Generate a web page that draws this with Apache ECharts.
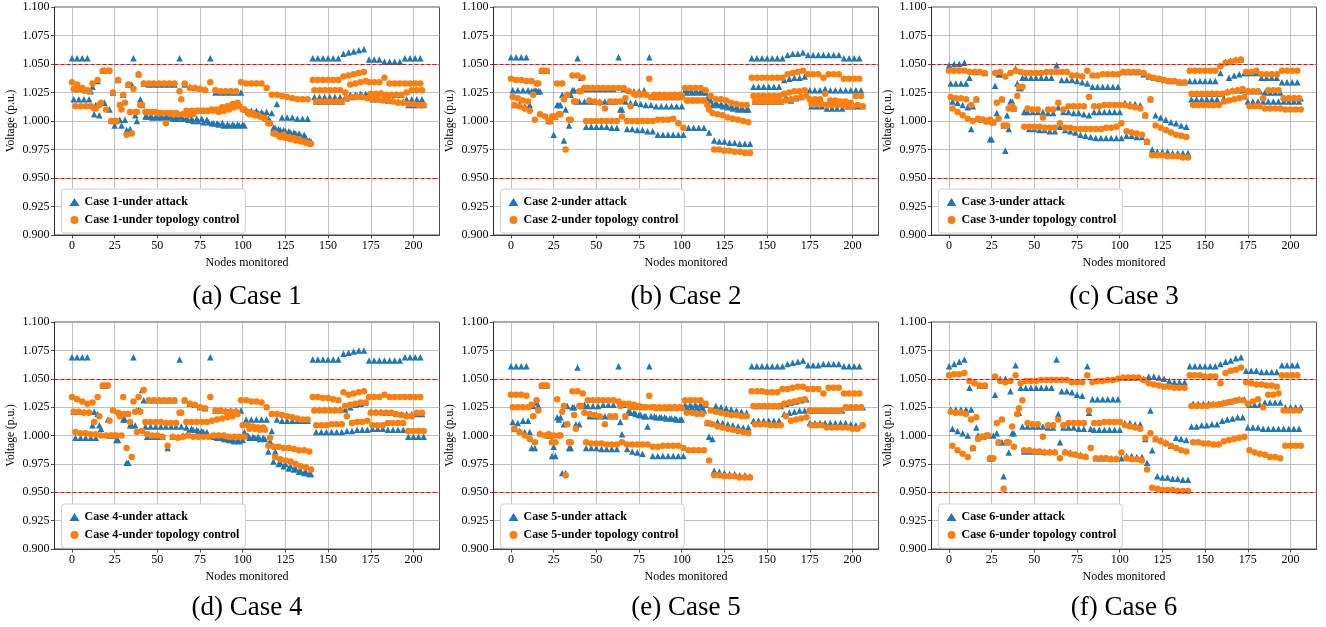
<!DOCTYPE html>
<html><head><meta charset="utf-8">
<script src="https://cdn.jsdelivr.net/npm/echarts@6/dist/echarts.min.js"></script>
<style>html,body{margin:0;padding:0;background:#fff}#c{width:1326px;height:627px}</style>
</head><body><div id="c"></div>
<script>
// Voltages in units of 0.001 p.u. Each band holds one phase group: x = 3k + offset (H:0, M:1, L:2)
const c1AttackH=[1055,1055,1055,1055,1030,1035,1044,1044,1025,1036,1023,1032,1055,1041,1033,1032,1032,1032,1032,1032,1032,1055,1032,1030,1029,1029,1028,1055,1025,1025,1025,1025,1025,1025,1010,1009,1009,1008,1008,1007,1015,1003,1003,1003,1002,1002,1002,1055,1055,1055,1055,1055,1055,1059,1060,1061,1062,1063,1054,1054,1054,1052,1052,1052,1052,1055,1055,1055,1055];
const c1AttackM=[1019,1019,1019,1019,1006,1005,1016,1010,996,1001,1001,993,1005,1019,1004,1004,1004,1004,1004,1004,1003,1004,1003,1002,1002,1002,1001,998,998,998,997,997,997,997,1008,1007,1007,1006,1002,994,993,992,991,990,989,988,983,1021,1021,1021,1021,1021,1021,1021,1023,1023,1024,1024,1024,1024,1025,1023,1023,1023,1023,1019,1019,1019,1019];
const c1AttackL=[1028,1028,1027,1026,1014,1016,1044,1000,1000,996,992,1032,1000,1014,1004,1003,1003,1003,1003,1002,1002,1002,1001,1000,1000,999,999,998,997,996,996,996,996,996,1007,1007,1006,1005,1000,994,992,991,990,989,987,985,982,1017,1017,1017,1017,1017,1017,1020,1021,1022,1022,1022,1019,1019,1019,1018,1018,1017,1017,1014,1014,1014,1014];
const c1ControlH=[1034,1032,1029,1027,1033,1036,1044,1044,1025,1036,1023,1032,1028,1041,1033,1033,1033,1033,1033,1033,1033,1026,1033,1029,1029,1028,1027,1034,1027,1026,1026,1026,1026,1034,1033,1033,1033,1033,1029,1023,1023,1022,1021,1020,1019,1019,1019,1036,1036,1036,1036,1036,1036,1039,1040,1041,1042,1043,1034,1034,1034,1038,1033,1033,1033,1033,1033,1033,1033];
const c1ControlM=[1028,1028,1027,1026,1011,1014,1044,1044,1000,1014,1016,1008,1008,1014,1008,1008,1008,1007,998,1007,1007,1019,1009,1009,1009,1009,1009,1010,1010,1012,1013,1015,1016,1010,1008,1007,1005,1003,998,989,987,988,986,985,984,982,980,1027,1027,1027,1027,1027,1027,1025,1032,1033,1034,1035,1024,1024,1024,1023,1023,1023,1023,1025,1027,1027,1027];
const c1ControlL=[1013,1013,1013,1013,1011,1016,1010,1000,1000,1010,988,989,1008,1014,1008,1008,1007,1007,1007,1006,1006,1006,1005,1006,1009,1009,1009,1009,1008,1009,1010,1012,1013,1010,1006,1005,1004,1002,998,989,986,985,984,983,982,981,980,1017,1017,1017,1017,1017,1017,1020,1021,1021,1021,1020,1019,1019,1018,1018,1017,1016,1016,1015,1015,1014,1014];

const c2AttackH=[1056,1056,1056,1056,1026,1026,1044,1044,1004,1014,1023,1023,1027,1055,1028,1028,1028,1028,1028,1028,1028,1056,1028,1027,1026,1026,1027,1056,1021,1021,1021,1021,1021,1021,1027,1027,1026,1026,1025,1018,1016,1015,1014,1013,1012,1011,1010,1055,1055,1055,1055,1055,1055,1055,1058,1059,1059,1060,1058,1058,1058,1058,1058,1058,1058,1055,1055,1055,1055];
const c2AttackM=[1027,1027,1027,1027,1026,1026,1044,1000,988,1014,983,996,1027,1017,1017,1017,1017,1017,1017,1017,1017,1010,1017,1016,1016,1015,1014,1014,1013,1013,1013,1013,1013,1013,1025,1025,1025,1025,1020,1014,1014,1013,1012,1011,1010,1010,1010,1030,1030,1030,1030,1030,1030,1036,1037,1038,1038,1039,1027,1027,1027,1028,1027,1027,1027,1027,1027,1027,1027];
const c2AttackL=[1014,1015,1013,1014,1027,1026,1044,1000,1004,1014,1010,1023,1017,1038,995,995,995,995,995,994,994,1010,993,993,992,992,991,991,988,988,988,988,988,988,994,994,994,994,990,983,982,982,981,981,980,980,980,1017,1017,1017,1017,1017,1017,1021,1018,1020,1021,1023,1013,1013,1013,1011,1011,1011,1011,1013,1013,1013,1013];
const c2ControlH=[1037,1036,1036,1035,1035,1033,1044,1044,1004,1033,1033,1023,1040,1040,1038,1029,1029,1029,1029,1029,1029,1029,1029,1026,1024,1024,1024,1037,1023,1023,1023,1023,1023,1023,1029,1029,1029,1029,1027,1022,1019,1019,1018,1016,1015,1014,1014,1038,1038,1038,1038,1038,1038,1038,1041,1042,1043,1044,1041,1041,1041,1038,1041,1041,1041,1037,1037,1037,1037];
const c2ControlM=[1021,1020,1018,1017,1023,1033,1044,1000,1004,1006,1019,1001,1017,1026,1029,1018,1017,1016,1011,1017,1017,1017,1020,1013,1023,1023,1023,1021,1021,1021,1021,1021,1021,1021,1018,1018,1018,1018,1014,1007,1006,1005,1003,1002,1001,1000,999,1022,1022,1022,1022,1022,1022,1024,1025,1026,1026,1027,1019,1019,1019,1024,1018,1018,1017,1017,1016,1022,1022];
const c2ControlL=[1014,1013,1011,1009,1001,1006,1004,1000,1004,1006,975,1001,1017,1026,1000,1000,1000,1000,1000,1000,1000,1004,1000,1000,1000,1000,1000,1000,1001,1001,1001,1002,998,994,1018,1018,1018,1018,1010,975,975,974,974,973,973,972,972,1017,1017,1017,1017,1017,1017,1018,1019,1020,1021,1022,1015,1015,1015,1014,1014,1014,1014,1013,1013,1014,1013];

const c3AttackH=[1049,1050,1050,1051,1038,1043,1043,1042,984,1031,1041,974,1017,1046,1029,1038,1038,1038,1038,1038,1038,1049,1036,1036,1036,1035,1034,1033,1030,1030,1030,1030,1030,1030,1043,1043,1043,1043,1041,1039,1038,1037,1036,1035,1035,1034,1034,1035,1035,1035,1035,1035,1035,1042,1052,1053,1054,1054,1042,1042,1042,1038,1038,1038,1038,1034,1034,1034,1034];
const c3AttackM=[1033,1033,1033,1033,993,1019,1001,1000,984,1007,1019,1005,1017,1033,1038,1008,1008,1008,1008,1007,1007,1012,1008,1008,1007,1007,1006,1005,1008,1008,1008,1008,1008,1008,1016,1015,1015,1014,1005,1019,1005,1003,1001,999,998,996,995,1019,1019,1019,1019,1019,1019,1024,1026,1027,1027,1027,1017,1017,1017,1017,1017,1017,1017,1017,1017,1017,1017];
const c3AttackL=[1017,1016,1014,1012,1013,1002,1001,1000,999,1041,996,993,1011,1029,1008,993,993,992,992,991,991,995,992,991,990,988,987,986,985,985,985,985,985,985,987,987,986,986,982,975,973,973,973,972,972,972,972,1024,1024,1024,1024,1024,1024,1020,1038,1040,1041,1042,1026,1026,1026,1025,1025,1025,1025,1020,1020,1020,1020];
const c3ControlH=[1044,1044,1044,1044,1043,1043,1043,1042,1001,1042,1043,1039,1042,1044,1043,1042,1042,1042,1042,1043,1043,1043,1043,1043,1040,1040,1039,1044,1040,1040,1041,1041,1041,1041,1043,1043,1043,1043,1042,1039,1038,1037,1036,1035,1035,1034,1034,1044,1044,1044,1044,1044,1044,1048,1051,1052,1053,1054,1043,1043,1044,1041,1041,1041,1041,1044,1044,1044,1044];
const c3ControlM=[1021,1020,1020,1019,1014,1019,1001,1000,999,1016,1019,996,1013,1022,1030,1011,1010,1010,1003,1010,1010,1016,1010,1013,1013,1013,1013,1021,1013,1013,1014,1014,1014,1014,1014,1013,1012,1011,1005,1019,996,994,992,990,988,987,986,1024,1024,1024,1024,1024,1024,1024,1025,1026,1027,1028,1026,1026,1026,1020,1027,1027,1027,1020,1020,1020,1020];
const c3ControlL=[1011,1008,1005,1002,1000,1002,1001,1000,999,1002,996,1011,1011,1030,995,995,995,995,994,994,994,998,994,994,993,993,993,993,993,993,994,994,995,998,991,990,989,988,982,970,970,970,969,969,969,968,968,1014,1014,1014,1014,1014,1014,1017,1018,1019,1020,1021,1013,1013,1013,1011,1011,1011,1011,1010,1010,1010,1010];

const c4AttackH=[1069,1069,1069,1069,1009,1019,1044,1014,1000,996,1014,976,1069,1022,1031,1031,1031,1031,1031,1031,1031,1067,1031,1028,1027,1025,1024,1069,1022,1022,1022,1022,1022,1022,1014,1014,1014,1014,1014,1004,1014,1013,1013,1013,1013,1013,1013,1067,1067,1067,1067,1067,1067,1072,1073,1074,1075,1075,1066,1066,1066,1066,1066,1066,1066,1069,1069,1069,1069];
const c4AttackM=[1021,1021,1021,1021,1021,1009,1044,1000,1000,1019,1014,1009,1009,1022,1008,1008,1008,1008,1008,1008,1008,1008,1007,1006,1005,1004,1003,1000,998,998,997,996,996,996,1000,999,999,998,986,977,975,973,971,970,968,967,966,1023,1023,1023,1023,1023,1023,1023,1025,1027,1028,1029,1021,1021,1021,1020,1020,1019,1019,1019,1019,1019,1019];
const c4AttackL=[998,998,998,998,998,1006,1044,1000,996,1019,976,1009,1022,1040,999,999,999,999,989,999,999,1000,1003,1005,1004,1003,1000,999,998,997,996,995,995,1003,998,998,997,997,995,986,976,975,973,971,969,968,966,1003,1003,1003,1003,1003,1003,1004,1004,1005,1005,1005,1006,1006,1006,1005,1005,1005,1005,999,999,999,999];
const c4ControlH=[1034,1032,1030,1028,1029,1034,1044,1044,1022,1020,1034,1019,1030,1034,1040,1031,1031,1031,1031,1031,1031,1020,1031,1028,1027,1025,1024,1034,1022,1022,1021,1021,1021,1031,1031,1030,1030,1029,1025,1019,1019,1018,1017,1016,1015,1014,1014,1034,1034,1033,1033,1032,1031,1038,1036,1037,1038,1039,1034,1034,1034,1036,1034,1034,1034,1034,1034,1034,1034];
const c4ControlM=[1021,1021,1020,1020,1012,1017,1044,1013,1000,1017,1019,1012,1021,1021,1012,1012,1012,1012,1011,1011,1011,1020,1012,1012,1012,1012,1012,1013,1014,1015,1016,1017,1019,1009,1009,1008,1007,1007,991,990,990,989,989,988,987,987,986,1022,1022,1022,1022,1022,1022,1026,1027,1028,1029,1029,1020,1020,1020,1020,1020,1019,1018,1017,1017,1020,1020];
const c4ControlL=[1003,1002,1002,1001,1001,1000,1000,1000,1000,1000,989,981,1003,1004,1001,1000,1000,999,991,999,998,999,1000,999,999,999,999,1000,1000,1000,999,999,999,999,1006,1006,1005,1005,998,981,979,978,977,975,973,972,970,1009,1009,1009,1010,1010,1010,1017,1011,1012,1012,1013,1009,1009,1009,1011,1011,1011,1011,1004,1004,1004,1004];

const c5AttackH=[1061,1061,1061,1061,989,1029,1044,1044,982,1016,967,1026,1025,1060,1026,1026,1026,1026,1027,1027,1027,1061,1027,1022,1020,1018,1017,1061,1017,1016,1016,1015,1015,1014,1027,1027,1027,1027,1027,1011,1026,1025,1024,1023,1022,1021,1020,1061,1061,1061,1061,1061,1061,1061,1063,1064,1065,1066,1062,1062,1062,1063,1063,1063,1063,1061,1061,1061,1061];
const c5AttackM=[1012,1011,1013,1013,1026,1026,1044,1000,990,1014,1010,989,1025,1010,1027,1017,1017,1017,1017,1017,1017,1012,1017,1020,1019,1018,1017,1017,1016,1016,1015,1015,1014,1014,1025,1025,1025,1025,1011,997,1012,1011,1010,1009,1008,1007,1007,1013,1013,1013,1013,1013,1013,1019,1020,1021,1022,1022,1011,1011,1011,1011,1011,1011,1011,1011,1010,1009,1009];
const c5AttackL=[1006,1004,1003,1003,989,1002,1044,1000,982,1016,967,989,1010,1026,989,989,989,988,988,988,988,1001,988,986,985,984,1008,982,982,982,982,982,982,982,1022,1022,1022,1022,999,969,968,967,966,966,965,965,964,1026,1026,1026,1026,1026,1026,1028,1029,1030,1031,1032,1022,1022,1022,1022,1022,1022,1022,1025,1025,1025,1025];
const c5ControlH=[1036,1036,1036,1035,1027,1031,1044,1044,994,1032,1021,1010,1039,1039,1037,1031,1031,1031,1031,1031,1031,1030,1028,1028,1027,1026,1025,1035,1025,1025,1025,1025,1025,1025,1031,1031,1031,1031,1028,1022,1021,1020,1019,1018,1018,1017,1017,1039,1039,1039,1038,1038,1038,1041,1041,1042,1043,1043,1041,1041,1041,1037,1042,1042,1042,1037,1037,1037,1037];
const c5ControlM=[1025,1025,1025,1025,1017,1022,1044,1001,1000,1000,1026,994,1018,1026,1020,1019,1018,1017,1010,1017,1017,1026,1017,1025,1025,1025,1025,1025,1024,1024,1024,1024,1024,1024,1020,1020,1019,1019,1011,1010,1008,1007,1006,1005,1004,1003,1002,1026,1026,1026,1026,1026,1026,1028,1029,1030,1031,1032,1022,1022,1022,1022,1022,1022,1022,1025,1025,1025,1025];
const c5ControlL=[1006,1003,1000,997,994,1001,1000,1000,994,1000,965,994,1006,1026,994,993,993,993,992,992,992,994,992,992,992,992,992,990,990,991,991,991,991,989,987,987,987,987,978,965,965,964,964,964,963,963,963,1010,1010,1010,1009,1009,1009,1017,1013,1014,1015,1016,1009,1009,1009,1007,1007,1007,1007,1007,1006,1006,1009];

const c6AttackH=[1061,1063,1065,1067,1042,1047,1044,1044,980,1036,1050,1050,1039,1062,1042,1042,1042,1042,1042,1042,1042,1067,1039,1039,1038,1036,1035,1061,1032,1032,1032,1032,1032,1032,1051,1051,1051,1051,1050,1052,1052,1051,1050,1048,1047,1047,1047,1061,1061,1061,1061,1061,1061,1063,1065,1066,1068,1069,1057,1057,1057,1056,1056,1056,1056,1062,1062,1062,1062];
const c6AttackM=[1023,1023,1023,1023,1023,1007,999,1000,980,1002,994,994,1002,1020,1008,1008,1008,1008,1008,1007,1007,1019,1007,1007,1007,1006,1006,1020,1005,1005,1005,1005,1005,1005,1011,1011,1010,1010,997,1022,997,996,994,991,998,997,996,1008,1008,1009,1009,1010,1010,1013,1014,1015,1016,1016,1007,1007,1007,1006,1006,1006,1006,1006,1006,1006,1006];
const c6AttackL=[1006,1004,1002,1000,989,1000,999,1000,1000,994,964,985,1002,1020,986,986,986,986,986,986,986,994,986,985,984,983,982,1006,980,980,980,980,980,980,982,982,981,981,976,987,964,963,963,962,962,961,961,1028,1028,1028,1028,1028,1028,1029,1030,1031,1032,1032,1027,1027,1027,1029,1029,1029,1029,1025,1025,1025,1025];
const c6ControlH=[1053,1054,1054,1055,1048,1046,1044,1044,980,1052,1048,1047,1048,1053,1046,1048,1048,1048,1049,1049,1049,1049,1049,1049,1047,1047,1047,1053,1047,1048,1048,1049,1049,1050,1051,1051,1051,1051,1049,1046,1045,1044,1043,1043,1042,1042,1042,1053,1053,1053,1052,1052,1052,1046,1055,1057,1058,1060,1047,1046,1045,1045,1044,1044,1043,1053,1053,1053,1053];
const c6ControlM=[1021,1020,1020,1019,1014,1016,999,1000,980,1011,1014,994,1008,1019,1031,1011,1010,1010,999,1009,1009,1014,1009,1011,1011,1011,1011,1022,1011,1011,1012,1012,1012,1012,1009,1008,1007,1006,998,1002,997,995,993,991,989,987,986,1026,1026,1026,1026,1027,1027,1028,1029,1030,1031,1031,1028,1030,1032,1025,1036,1036,1037,1022,1022,1022,1022];
const c6ControlL=[991,987,984,981,989,997,999,1000,980,994,953,994,990,1024,987,987,986,986,985,985,985,980,985,984,983,982,981,989,980,980,980,979,979,985,980,979,979,978,970,954,953,952,952,952,951,951,951,994,994,993,993,992,992,995,996,997,998,999,987,985,984,983,981,981,980,991,991,991,991];

const caseLabels=['Case 1','Case 2','Case 3','Case 4','Case 5','Case 6'];
const captions=['(a) Case 1','(b) Case 2','(c) Case 3','(d) Case 4','(e) Case 5','(f) Case 6'];
const xTickValues=[0,25,50,75,100,125,150,175,200];
const yLimits=[0.9,1.1];
const limitLines=[1.05,0.95];

const attackBands=[[c1AttackH,c1AttackM,c1AttackL],[c2AttackH,c2AttackM,c2AttackL],[c3AttackH,c3AttackM,c3AttackL],[c4AttackH,c4AttackM,c4AttackL],[c5AttackH,c5AttackM,c5AttackL],[c6AttackH,c6AttackM,c6AttackL]];
const controlBands=[[c1ControlH,c1ControlM,c1ControlL],[c2ControlH,c2ControlM,c2ControlL],[c3ControlH,c3ControlM,c3ControlL],[c4ControlH,c4ControlM,c4ControlL],[c5ControlH,c5ControlM,c5ControlL],[c6ControlH,c6ControlM,c6ControlL]];

function toPoints(bands){
  const pts=[];
  bands.forEach((arr,off)=>arr.forEach((v,k)=>pts.push([3*k+off, v/1000])));
  return pts;
}

const FONT='"Liberation Serif","Times New Roman",serif';
const gLeft=[54.5,493.5,931.5], gTop=[7,322], gW=385, gH=[228,227];
const grid=[],xAxis=[],yAxis=[],series=[],legend=[],graphic=[];
for(let i=0;i<6;i++){
  const col=i%3,row=Math.floor(i/3);
  grid.push({left:gLeft[col],top:gTop[row],width:gW,height:gH[row],show:true,borderColor:'#222',borderWidth:0.8,backgroundColor:'transparent'});
  xAxis.push({type:'value',gridIndex:i,min:-10.25,max:215.25,
    name:'Nodes monitored',nameLocation:'middle',nameGap:22,nameTextStyle:{fontFamily:FONT,fontSize:12,color:'#000'},
    axisLine:{show:true,onZero:false,lineStyle:{color:'#222',width:0.8}},
    axisTick:{show:true,length:3.5,customValues:xTickValues,lineStyle:{color:'#222',width:0.8}},
    axisLabel:{customValues:xTickValues,margin:5,fontFamily:FONT,fontSize:12,color:'#000'},
    splitLine:{show:true,lineStyle:{color:'#b0b0b0',width:0.8}}});
  yAxis.push({type:'value',gridIndex:i,min:yLimits[0],max:yLimits[1],interval:0.025,
    name:'Voltage (p.u.)',nameLocation:'middle',nameGap:38,nameTextStyle:{fontFamily:FONT,fontSize:11.5,color:'#000'},
    axisLine:{show:true,onZero:false,lineStyle:{color:'#222',width:0.8}},
    axisTick:{show:true,length:3.5,lineStyle:{color:'#222',width:0.8}},
    axisLabel:{margin:5,fontFamily:FONT,fontSize:12,color:'#000',formatter:v=>v.toFixed(3)},
    splitLine:{show:true,lineStyle:{color:'#b0b0b0',width:0.8}}});
  const nA=caseLabels[i]+'-under attack', nC=caseLabels[i]+'-under topology control';
  series.push({name:nA,type:'scatter',xAxisIndex:i,yAxisIndex:i,symbol:'triangle',symbolSize:6.5,
    itemStyle:{color:'#1f77b4',opacity:1},emphasis:{disabled:true},data:toPoints(attackBands[i])});
  series.push({name:nC,type:'scatter',xAxisIndex:i,yAxisIndex:i,symbol:'circle',symbolSize:6.5,
    itemStyle:{color:'#ff7f0e',opacity:1},emphasis:{disabled:true},data:toPoints(controlBands[i]),
    markLine:{silent:true,symbol:['none','none'],label:{show:false},animation:false,
      lineStyle:{color:'#ff0000',type:[4,2],width:1},data:limitLines.map(v=>({yAxis:v}))}});
  legend.push({data:[nA,nC],orient:'vertical',left:gLeft[col]+7,top:gTop[row]+182,
    backgroundColor:'#fff',borderColor:'#d0d0d0',borderWidth:1,borderRadius:3,padding:[7,6,7,8],
    itemGap:6,itemWidth:10,itemHeight:8,selectedMode:false,
    textStyle:{fontFamily:FONT,fontWeight:'bold',fontSize:12,color:'#000'}});
  graphic.push({type:'text',x:gLeft[col]+gW/2,y:row===0?297:608,
    style:{text:captions[i],textAlign:'center',textVerticalAlign:'middle',font:'27px '+FONT,fill:'#000'}});
}
const chart=echarts.init(document.getElementById('c'),null,{renderer:'canvas'});
chart.setOption({animation:false,backgroundColor:'#fff',grid,xAxis,yAxis,series,legend,graphic});
</script></body></html>
